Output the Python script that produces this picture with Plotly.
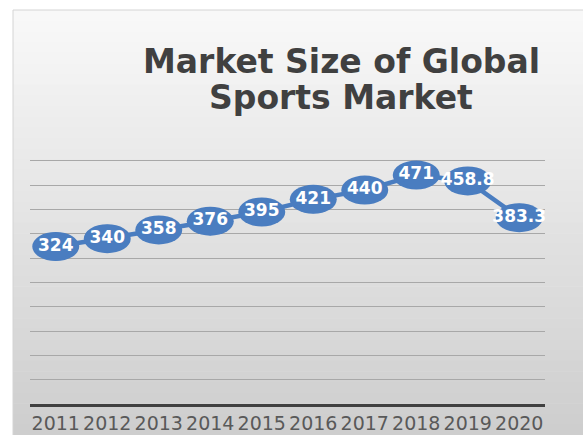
import plotly.graph_objects as go

years = ["2011", "2012", "2013", "2014", "2015", "2016", "2017", "2018", "2019", "2020"]
market_size = [324, 340, 358, 376, 395, 421, 440, 471, 458.8, 383.3]
value_labels = ["324", "340", "358", "376", "395", "421", "440", "471", "458.8", "383.3"]
title_lines = ["Market Size of Global", "Sports Market"]

W, H = 583, 435
ML, MR, MT, MB = 30, 38, 159, 31
PW, PH = W - ML - MR, H - MT - MB

def px_to_paper_x(px):
    return (px - ML) / PW

def px_to_paper_y(py):
    return (H - MB - py) / PH

BLUE = "#4a7dc0"

fig = go.Figure()
fig.add_trace(go.Scatter(
    x=years, y=market_size, mode="lines+markers+text",
    line=dict(color=BLUE, width=4.5),
    marker=dict(color=BLUE, size=28),
    text=value_labels, textposition="middle center",
    textfont=dict(family="DejaVu Sans", size=17, color="white", weight="bold"),
    hoverinfo="skip", showlegend=False, cliponaxis=False,
))

shapes = []
# gradient background frame
top_px, left_px = 10, 13
n = 40
c_top, c_bot = (248, 248, 248), (206, 206, 206)
for i in range(n):
    t = i / (n - 1)
    col = tuple(int(round(a + (b - a) * t)) for a, b in zip(c_top, c_bot))
    y0 = top_px + (H - top_px) * i / n
    y1 = top_px + (H - top_px) * (i + 1) / n + 0.5
    shapes.append(dict(type="rect", xref="paper", yref="paper", layer="below",
                       x0=px_to_paper_x(left_px), x1=px_to_paper_x(W + 2),
                       y0=px_to_paper_y(y1), y1=px_to_paper_y(y0),
                       fillcolor="rgb(%d,%d,%d)" % col, line=dict(width=0)))
shapes.append(dict(type="rect", xref="paper", yref="paper", layer="below",
                   x0=px_to_paper_x(left_px), x1=px_to_paper_x(W + 2),
                   y0=px_to_paper_y(H + 2), y1=px_to_paper_y(top_px),
                   fillcolor="rgba(0,0,0,0)", line=dict(width=1, color="#d4d4d4")))
# elliptical markers anchored at data points (category index on x)
for idx, v in enumerate(market_size):
    shapes.append(dict(type="circle", xref="x", yref="y", layer="between",
                       xsizemode="pixel", ysizemode="pixel",
                       xanchor=idx, yanchor=v, x0=-23.5, x1=23.5, y0=-14.5, y1=14.5,
                       fillcolor=BLUE, line=dict(width=0)))

annotations = []
for i, line in enumerate(title_lines):
    annotations.append(dict(
        text="<b>%s</b>" % line, xref="paper", yref="paper",
        x=px_to_paper_x(341), y=px_to_paper_y(61 + 37 * i),
        xanchor="center", yanchor="middle", showarrow=False,
        font=dict(family="DejaVu Sans", size=33, color="#404040")))

fig.update_layout(
    width=W, height=H,
    margin=dict(l=ML, r=MR, t=MT, b=MB, autoexpand=False),
    paper_bgcolor="white", plot_bgcolor="rgba(0,0,0,0)",
    shapes=shapes, annotations=annotations, showlegend=False,
)
fig.update_xaxes(type="category", showline=True, linecolor="#404040", linewidth=3,
                 showgrid=False, ticks="", tickangle=0,
                 tickfont=dict(family="DejaVu Sans", size=19, color="#595959"),
                 automargin=False, range=[-0.5, 9.5])
fig.update_yaxes(range=[0, 504], dtick=50, showgrid=True, gridcolor="#a8a8a8", gridwidth=1.3,
                 showticklabels=False, zeroline=False, automargin=False)

fig.write_html("out.html")
